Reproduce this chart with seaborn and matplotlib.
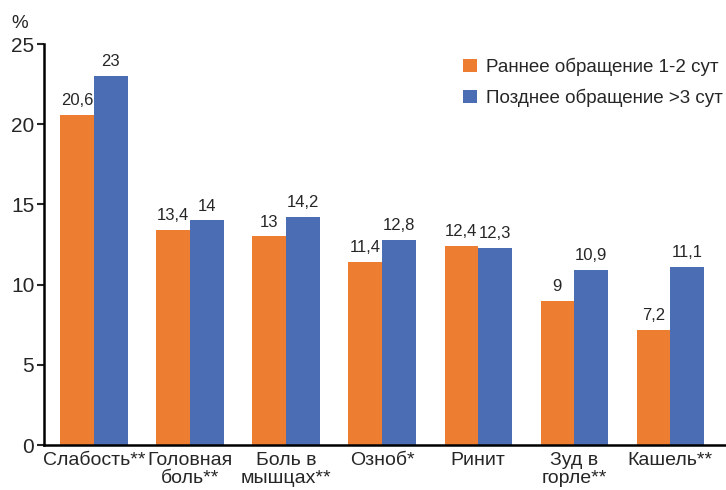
import pandas as pd
import matplotlib
matplotlib.use("Agg")
import matplotlib.pyplot as plt
import seaborn as sns

# data
categories = ["Слабость**", "Головная\nболь**", "Боль в\nмышцах**", "Озноб*",
              "Ринит", "Зуд в\nгорле**", "Кашель**"]
early = [20.6, 13.4, 13.0, 11.4, 12.4, 9.0, 7.2]
late = [23.0, 14.0, 14.2, 12.8, 12.3, 10.9, 11.1]
series_names = ["Раннее обращение 1-2 сут", "Позднее обращение >3 сут"]
colors = ["#ED7D31", "#4A6DB3"]

df = pd.DataFrame({
    "cat": categories * 2,
    "val": early + late,
    "grp": [series_names[0]] * len(categories) + [series_names[1]] * len(categories),
})

sns.set_style("white")
plt.rcParams['font.family'] = ['Liberation Sans', 'DejaVu Sans']

fig = plt.figure(figsize=(7.26, 4.9), dpi=100)
ax = fig.add_axes([0.0606, 0.0918, 0.9394, 0.8184])

sns.barplot(data=df, x="cat", y="val", hue="grp", palette=colors,
            width=0.7, gap=0, saturation=1, linewidth=0, ax=ax, legend=True)

# value labels with comma decimal separator
for cont in ax.containers:
    labs = [("%g" % b.get_height()).replace(".", ",") for b in cont]
    ax.bar_label(cont, labels=labs, padding=5, fontsize=12)

ax.set_ylim(0, 25)
ax.set_xlim(-0.52, 6.58)
ax.set_yticks([0, 5, 10, 15, 20, 25])
ax.tick_params(axis="y", labelsize=15, length=5, width=1.5, direction="out", left=True, pad=2)
ax.tick_params(axis="x", labelsize=14, length=0, pad=5)
for t in ax.get_xticklabels():
    t.set_linespacing(1.05)
ax.set_xlabel("")
ax.set_ylabel("")
for s in ["top", "right"]:
    ax.spines[s].set_visible(False)
for s in ["left", "bottom"]:
    ax.spines[s].set_color("black")
    ax.spines[s].set_linewidth(1.8)

ax.text(-0.048, 1.03, "%", transform=ax.transAxes, fontsize=13.5, ha="left", va="bottom")

leg = ax.legend(loc="upper right", bbox_to_anchor=(1.02, 1.008), frameon=False,
                fontsize=13.5, handlelength=0.7, handleheight=0.7, handletextpad=0.5,
                labelspacing=0.7)

fig.savefig("out.png", dpi=100)
